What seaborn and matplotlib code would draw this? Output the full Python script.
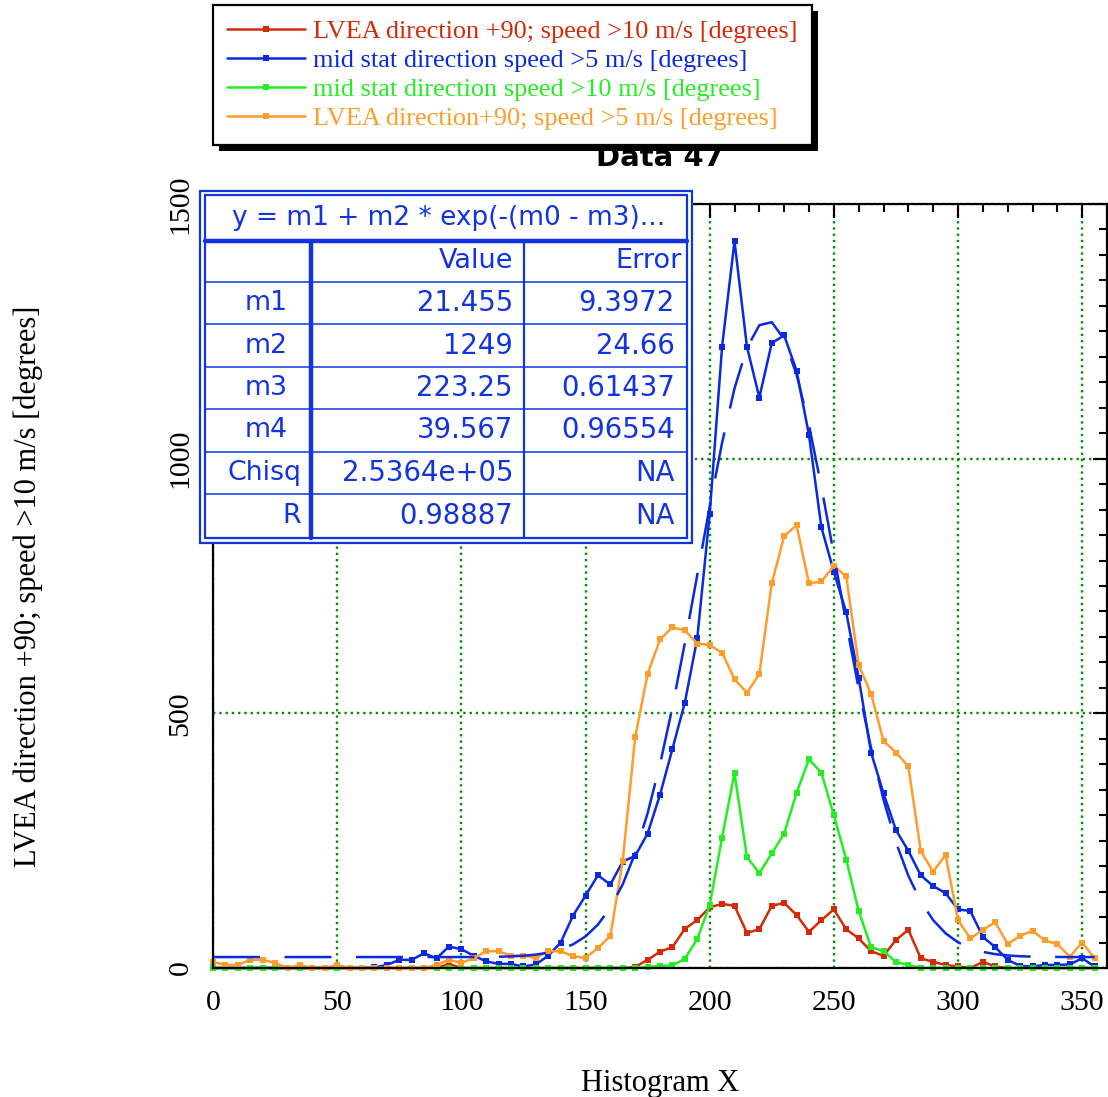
import numpy as np
import pandas as pd
import seaborn as sns
import matplotlib.pyplot as plt
from matplotlib.patches import Rectangle
from matplotlib.lines import Line2D
from matplotlib.ticker import MultipleLocator
from matplotlib.transforms import IdentityTransform

W, H = 1108, 1097

# histogram bins (5 degree steps)
hist_x = list(range(0, 360, 5))

lvea_10 = [
    0, 0, 0, 0, 0, 0, 0, 0, 0, 0,
    0, 0, 0, 0, 0, 0, 0, 0, 0, 8,
    0, 0, 0, 0, 0, 0, 0, 0, 0, 0,
    0, 0, 0, 0, 2, 16, 32, 41, 77, 94,
    119, 126, 122, 69, 76, 122, 128, 104, 71, 94,
    115, 76, 58, 33, 24, 55, 75, 19, 12, 6,
    3, 0, 12, 3, 0, 0, 0, 0, 0, 0,
    0, 0]

mid_5 = [
    0, 0, 0, 0, 0, 0, 0, 0, 0, 0,
    0, 0, 0, 1, 6, 16, 16, 29, 19, 42,
    37, 24, 13, 8, 8, 3, 7, 24, 50, 103,
    142, 182, 164, 209, 220, 264, 340, 430, 521, 647,
    891, 1220, 1427, 1220, 1120, 1227, 1242, 1173, 1046, 865,
    778, 698, 570, 423, 343, 271, 230, 182, 161, 147,
    115, 112, 61, 41, 16, 4, 3, 6, 6, 7,
    19, 3]

mid_10 = [
    0, 0, 0, 0, 0, 0, 0, 0, 0, 0,
    0, 0, 0, 0, 0, 0, 0, 0, 0, 0,
    0, 0, 0, 0, 0, 0, 0, 0, 0, 0,
    0, 0, 0, 0, 0, 2, 4, 5, 18, 57,
    123, 256, 383, 218, 186, 225, 264, 344, 410, 383,
    300, 213, 112, 41, 33, 12, 6, 0, 0, 0,
    0, 0, 0, 0, 0, 0, 0, 0, 0, 0,
    0, 0]

lvea_5 = [
    12, 6, 6, 16, 16, 10, 0, 6, 0, 0,
    6, 0, 0, 0, 0, 0, 0, 0, 6, 16,
    10, 19, 33, 33, 24, 24, 20, 33, 33, 23,
    20, 39, 63, 211, 453, 577, 645, 669, 663, 637,
    634, 619, 567, 540, 577, 755, 848, 869, 755, 759,
    789, 769, 595, 538, 446, 423, 396, 230, 189, 222,
    94, 58, 75, 90, 47, 63, 73, 54, 47, 22,
    50, 19]

# gaussian fit curve as drawn (dashed)
fit_curve = [
    21.5, 21.5, 21.5, 21.5, 21.5, 21.5, 21.5, 21.5, 21.5, 21.5,
    21.5, 21.5, 21.5, 21.5, 21.5, 21.5, 21.5, 21.5, 21.5, 21.5,
    21.5, 21.6, 21.8, 22.1, 22.8, 24.1, 26.3, 30.1, 36.4, 46.5,
    62.0, 85.2, 118.5, 164.4, 225.6, 303.8, 399.6, 512.0, 637.9, 771.6,
    905.8, 1031.1, 1138.0, 1217.3, 1262.1, 1268.0, 1234.6, 1165.0, 1065.6, 944.7,
    812.2, 677.5, 548.6, 431.7, 330.7, 247.2, 181.1, 130.8, 94.0, 68.1,
    50.5, 38.9, 31.7, 27.2, 24.6, 23.1, 22.3, 21.9, 21.7, 21.5,
    21.5, 21.5]

labels = ["LVEA direction +90; speed >10 m/s [degrees]",
          "mid stat direction speed >5 m/s [degrees]",
          "mid stat direction speed >10 m/s [degrees]",
          "LVEA direction+90; speed >5 m/s [degrees]"]
colors = ["#d42a08", "#0a2ae0", "#22ee22", "#ff9c2a"]

fit_formula = "y = m1 + m2 * exp(-(m0 - m3)..."
fit_names = ["m1", "m2", "m3", "m4", "Chisq", "R"]
fit_values = ["21.455", "1249", "223.25", "39.567", "2.5364e+05", "0.98887"]
fit_errors = ["9.3972", "24.66", "0.61437", "0.96554", "NA", "NA"]

df = pd.DataFrame({"x": hist_x, "lvea_10": lvea_10, "mid_5": mid_5,
                   "mid_10": mid_10, "lvea_5": lvea_5, "fit": fit_curve})

sns.set_theme(style="white")
plt.rcParams['font.family'] = ['Liberation Serif', 'DejaVu Serif']
plt.rcParams.update({"text.color": "black", "axes.labelcolor": "black",
                     "xtick.color": "black", "ytick.color": "black"})

fig = plt.figure(figsize=(W / 100, H / 100), dpi=100)
ax = fig.add_axes([213 / W, 1 - 968 / H, (1107 - 213) / W, (968 - 204) / H])

for col, lab, c in zip(["lvea_10", "mid_5", "mid_10", "lvea_5"], labels, colors):
    sns.lineplot(data=df, x="x", y=col, ax=ax, color=c, linewidth=1.8,
                 marker="s", markersize=4, markeredgewidth=0, label=lab,
                 clip_on=False)
handles, hlabels = ax.get_legend_handles_labels()
if ax.get_legend() is not None:
    ax.get_legend().remove()

sns.lineplot(data=df, x="x", y="fit", ax=ax, color=colors[1], linewidth=1.8,
             legend=False)
ax.lines[-1].set_linestyle((0, (18.8, 9.8)))

ax.set_xlim(0, 360)
ax.set_ylim(0, 1500)
ax.xaxis.set_major_locator(MultipleLocator(50))
ax.xaxis.set_minor_locator(MultipleLocator(10))
ax.yaxis.set_major_locator(MultipleLocator(500))
ax.yaxis.set_minor_locator(MultipleLocator(50))
ax.set_xticks([0, 50, 100, 150, 200, 250, 300, 350])
ax.grid(which="major", color="#009000", linestyle=":", linewidth=1.7)
for s in ax.spines.values():
    s.set_color("black")
    s.set_linewidth(1.6)
ax.tick_params(which="both", direction="in", top=True, right=True,
               color="black", width=1.5, labelsize=21.5, labelcolor="black")
ax.tick_params(which="major", length=10)
ax.tick_params(which="minor", length=6)
ax.tick_params(axis="x", pad=16)
ax.tick_params(axis="y", labelrotation=90, pad=14)
for t in ax.get_yticklabels():
    t.set_va("center")

ax.set_xlabel("Histogram X", fontsize=22)
ax.set_ylabel(labels[0], fontsize=22)
ax.xaxis.set_label_coords(0.5, -0.132)
ax.yaxis.set_label_coords(-0.19, 0.5)
ax.set_title("Data 47", fontsize=21, fontweight="bold", family="DejaVu Sans",
             color="black", pad=27)

# fit results table
tb = "#1233e0"
def fx(px):
    return px / W
def fy(py):
    return 1 - py / H

fig.add_artist(Rectangle((fx(200), fy(543)), fx(692) - fx(200), fy(191) - fy(543),
                         transform=fig.transFigure, facecolor="white", edgecolor=tb, lw=1.6, zorder=2))
fig.add_artist(Rectangle((fx(205), fy(538)), fx(687) - fx(205), fy(195) - fy(538),
                         transform=fig.transFigure, facecolor="none", edgecolor=tb, lw=1.6, zorder=2))
fig.add_artist(Line2D([fx(205), fx(687)], [fy(241), fy(241)], transform=fig.transFigure,
                      color=tb, lw=3.2, zorder=2.1))
for ry in [282, 324, 367, 409, 452, 494]:
    fig.add_artist(Line2D([fx(205), fx(687)], [fy(ry), fy(ry)], transform=fig.transFigure,
                          color=tb, lw=1.1, zorder=2.1))
fig.add_artist(Line2D([fx(311), fx(311)], [fy(241), fy(538)], transform=fig.transFigure,
                      color=tb, lw=3.2, zorder=2.1))
fig.add_artist(Line2D([fx(524), fx(524)], [fy(241), fy(538)], transform=fig.transFigure,
                      color=tb, lw=1.6, zorder=2.1))

tkw = dict(color=tb, family="DejaVu Sans", va="center", zorder=3)
fig.text(fx(449), fy(218), fit_formula, ha="center", fontsize=19, **tkw)
fig.text(fx(513), fy(261), "Value", ha="right", fontsize=19.5, **tkw)
fig.text(fx(682), fy(261), "Error", ha="right", fontsize=19.5, **tkw)
row_y = [303, 346, 388, 430, 473, 516]
for i, (n, v, e) in enumerate(zip(fit_names, fit_values, fit_errors)):
    name_x = 288 if n.startswith("m") else 301
    fig.text(fx(name_x), fy(row_y[i]), n, ha="right", fontsize=19.3, **tkw)
    fig.text(fx(513), fy(row_y[i]), v, ha="right", fontsize=19.8, **tkw)
    fig.text(fx(675), fy(row_y[i]), e, ha="right", fontsize=19.8, **tkw)

# legend with black drop shadow
leg = fig.legend(handles, hlabels, loc="upper left", bbox_to_anchor=(fx(213), fy(5)),
                 bbox_transform=fig.transFigure, borderaxespad=0, frameon=True,
                 fancybox=False, framealpha=1, edgecolor="black", fontsize=18.9,
                 labelcolor="linecolor", handlelength=2.95, handletextpad=0.31,
                 labelspacing=0.22, borderpad=0.55, numpoints=1)
leg.get_frame().set_linewidth(1.6)
leg.set_zorder(6)

fig.canvas.draw()
bb = leg.get_window_extent()
fig.add_artist(Rectangle((bb.x0 + 6, bb.y0 - 6), bb.width, bb.height,
                         transform=IdentityTransform(), facecolor="black",
                         edgecolor="none", zorder=5))

fig.savefig("out.png", dpi=100)
